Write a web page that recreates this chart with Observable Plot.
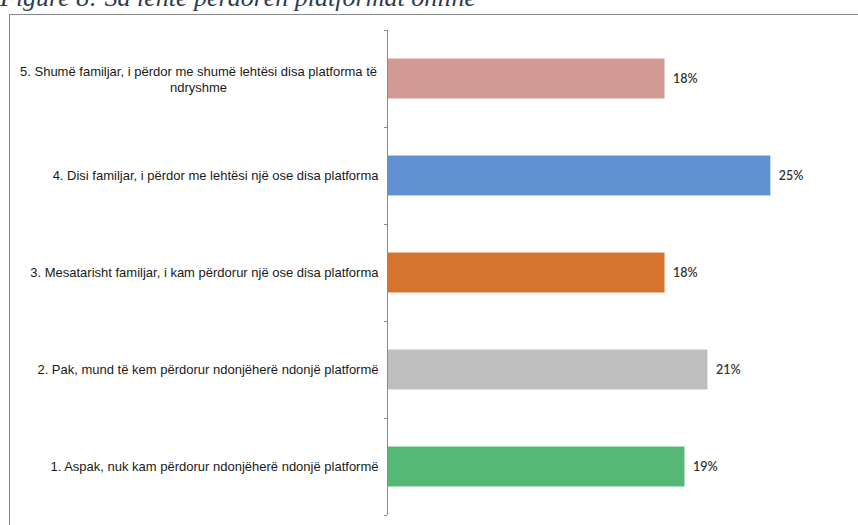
<!DOCTYPE html>
<html>
<head>
<meta charset="utf-8">
<script src="https://cdn.jsdelivr.net/npm/d3@7"></script>
<script src="https://cdn.jsdelivr.net/npm/@observablehq/plot@0.6"></script>
<style>
  html, body { margin: 0; padding: 0; background: #fff; width: 858px; height: 525px; overflow: hidden; }
  #wrap { position: relative; width: 858px; height: 525px; }
  #title { position: absolute; left: 0; top: -15px; font-family: "Liberation Serif", "DejaVu Serif", serif; font-style: italic; font-size: 26px; line-height: 26px; color: #2f3b4a; white-space: nowrap; }
  #box { position: absolute; left: 9px; top: 14px; width: 860px; height: 520px; border-top: 1.5px solid #8a8a8a; border-left: 1px solid #8a8a8a; }
  #chart { position: absolute; left: 0; top: 0; }
</style>
</head>
<body>
<div id="wrap">
  <div id="title">Figure 8: Sa lehtë përdorën platformat online</div>
  <div id="box"></div>
  <div id="chart"></div>
</div>
<script>
const categories = [
  "1. Aspak, nuk kam përdorur ndonjëherë ndonjë platformë",
  "2. Pak, mund të kem përdorur ndonjëherë ndonjë platformë",
  "3. Mesatarisht familjar, i kam përdorur një ose disa platforma",
  "4. Disi familjar, i përdor me lehtësi një ose disa platforma",
  "5. Shumë familjar, i përdor me shumë lehtësi disa platforma të\nndryshme"
];
const values = [19.4, 20.9, 18.1, 25.0, 18.1];
const colors = ["#55b874", "#bfbfbf", "#d6732e", "#6190d3", "#d19a95"];

const data = categories.map((c, i) => ({label: c, rank: i + 1, value: values[i], color: colors[i]}));
const boundaries = d3.range(0.5, categories.length + 1, 1);
const half = 0.206;

const chart = Plot.plot({
  width: 858,
  height: 525,
  marginLeft: 387,
  marginRight: 11,
  marginTop: 30,
  marginBottom: 10,
  style: {background: "transparent", overflow: "visible"},
  x: {domain: [0, 30], axis: null},
  y: {domain: [0.5, categories.length + 0.5], axis: null},
  marks: [
    Plot.rectX(data, {x1: 0, x2: "value", y1: d => d.rank - half, y2: d => d.rank + half, fill: "color"}),
    Plot.ruleX([0], {y1: 0.5, y2: categories.length + 0.5, stroke: "#8a8a8a", strokeWidth: 1}),
    Plot.axisY(boundaries, {anchor: "left", tickSize: 3, tickFormat: () => "", label: null, stroke: "#8a8a8a"}),
    Plot.text(data.filter(d => !d.label.includes("\n")), {
      x: 0, y: "rank", text: "label", textAnchor: "end", dx: -9,
      fontFamily: "Liberation Sans, Arial, sans-serif", fontSize: 13, fill: "#1a1a1a"
    }),
    Plot.text(data.filter(d => d.label.includes("\n")), {
      x: 0, y: "rank", text: "label", textAnchor: "middle", dx: -189, lineHeight: 1.23,
      fontFamily: "Liberation Sans, Arial, sans-serif", fontSize: 13, fill: "#1a1a1a"
    }),
    Plot.text(data, {
      x: "value", y: "rank", text: d => Math.round(d.value) + "%", textAnchor: "start", dx: 8,
      fontFamily: "Lato, Open Sans, sans-serif", fontSize: 12.5, fontWeight: 600, fill: "#333"
    })
  ]
});
document.getElementById("chart").appendChild(chart);
</script>
</body>
</html>
